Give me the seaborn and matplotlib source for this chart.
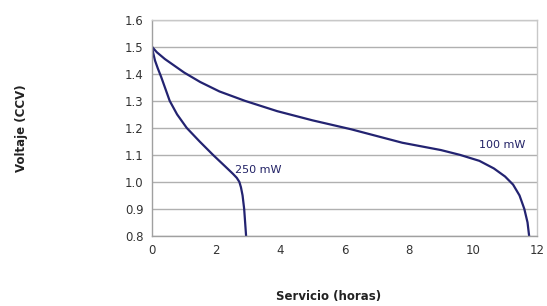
import matplotlib
matplotlib.use("Agg")
import matplotlib.pyplot as plt
import seaborn as sns
import pandas as pd

hours_250 = [0.0, 0.03, 0.09, 0.18, 0.28, 0.4, 0.55, 0.78, 1.08, 1.48, 1.9, 2.3, 2.52, 2.64, 2.72, 2.77, 2.82, 2.87, 2.9, 2.93]
volt_250 = [1.5, 1.48, 1.45, 1.42, 1.39, 1.35, 1.3, 1.25, 1.2, 1.15, 1.1, 1.055, 1.03, 1.015, 1.0, 0.98, 0.95, 0.9, 0.85, 0.8]
hours_100 = [0.0, 0.15, 0.4, 0.7, 1.0, 1.5, 2.1, 2.9, 3.9, 5.0, 6.2, 7.8, 9.0, 9.6, 10.2, 10.65, 11.0, 11.25, 11.45, 11.6, 11.7, 11.75]
volt_100 = [1.5, 1.48, 1.455, 1.43, 1.405, 1.37, 1.335, 1.3, 1.262, 1.228, 1.195, 1.145, 1.118, 1.1, 1.078, 1.05, 1.02, 0.99, 0.95, 0.9, 0.85, 0.8]
label_250 = "250 mW"
label_100 = "100 mW"

df = pd.concat([
    pd.DataFrame({"h": hours_250, "v": volt_250, "s": label_250}),
    pd.DataFrame({"h": hours_100, "v": volt_100, "s": label_100}),
])

sns.set_theme(style="white")
plt.rcParams['font.family'] = ['DejaVu Sans']
fig = plt.figure(figsize=(5.47, 3.06), dpi=100)
ax = fig.add_axes([0.278, 0.229, 0.704, 0.706])
line_color = "#232371"
sns.lineplot(data=df, x="h", y="v", hue="s", palette=[line_color, line_color],
             legend=False, ax=ax, linewidth=1.6, sort=False, estimator=None)
ax.set_xlim(0, 12)
ax.set_ylim(0.8, 1.6)
ax.set_xticks(range(0, 13, 2))
ax.set_yticks([0.8 + 0.1 * i for i in range(9)])
ax.set_yticklabels([f"{0.8 + 0.1 * i:.1f}" for i in range(9)])
ax.yaxis.grid(True, color="#b0b0b0", linewidth=1.0)
ax.xaxis.grid(False)
for s in ax.spines.values():
    s.set_color("#c8c8c8")
    s.set_linewidth(1.0)
ax.spines["left"].set_color("#a0a0a0")
ax.spines["bottom"].set_color("#a0a0a0")
ax.tick_params(axis="both", length=0, labelsize=8.5, colors="#333333", pad=6)
ax.set_xlabel("")
ax.set_ylabel("")
ax.text(3.3, 1.045, label_250, fontsize=8, color="#222266", ha="center", va="center")
ax.text(10.9, 1.137, label_100, fontsize=8, color="#222266", ha="center", va="center")
fig.text(0.60, 0.03, "Servicio (horas)", fontsize=8.5, fontweight="bold", ha="center", va="center", color="#222222")
fig.text(0.04, 0.58, "Voltaje (CCV)", fontsize=8.5, fontweight="bold", ha="center", va="center", rotation=90, color="#222222")
fig.savefig("out.png", dpi=100)
